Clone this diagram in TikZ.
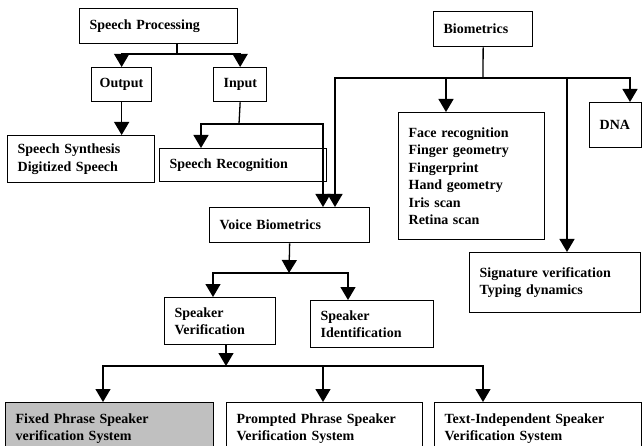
\documentclass[tikz,border=0pt]{standalone}
\usepackage{fontspec}
\setmainfont{Liberation Serif}
\usetikzlibrary{arrows.meta}

\tikzset{
  box/.style={draw, line width=1.3pt, rectangle, anchor=north west, align=left,
    inner xsep=10pt, inner ysep=2pt, font=\bfseries\fontsize{14}{17.5}\selectfont},
  arr/.style={-{Triangle[length=13pt,width=15pt]}, line width=1.3pt},
  link/.style={line width=1.3pt}
}

\begin{document}
\begin{tikzpicture}[x=1pt,y=-1pt]
    \clip (0,0) rectangle (642,446);

    % Speech processing side
    \node[box, text width=138pt, minimum height=35pt] (sp) at (79,8) {Speech Processing};
    \node[box, inner xsep=8pt, text width=44pt, minimum height=34pt] (out) at (91,67) {Output};
    \node[box, text width=33pt, minimum height=34pt] (inp) at (213,67) {Input};
    \node[box, text width=127pt, minimum height=47pt] (syn) at (7,135) {Speech Synthesis\\Digitized Speech};
    \node[box, text width=147pt, minimum height=33pt] (rec) at (159,148) {Speech Recognition};
    \node[box, text width=140pt, minimum height=35pt] (vb) at (209,207) {Voice Biometrics};

    % Biometrics side
    \node[box, text width=79pt, minimum height=35pt] (bio) at (433,11) {Biometrics};
    \node[box, text width=126pt, minimum height=127pt] (face) at (398,112)
        {Face recognition\\Finger geometry\\Fingerprint\\Hand geometry\\Iris scan\\Retina scan};
    \node[box, text width=32pt, minimum height=45pt] (dna) at (589,102) {DNA};
    \node[box, text width=151pt, minimum height=60pt] (sig) at (469,252) {Signature verification\\Typing dynamics};

    % Speaker recognition
    \node[box, text width=91pt, minimum height=47pt] (sv) at (164,297) {Speaker\\Verification};
    \node[box, text width=103pt, minimum height=47pt] (si) at (310,300) {Speaker\\Identification};
    \node[box, fill={rgb,255:red,192;green,192;blue,192}, text width=188pt, minimum height=52pt] (fix) at (5,402)
        {Fixed Phrase Speaker\\verification System};
    \node[box, text width=176pt, minimum height=52pt] (pro) at (226,402) {Prompted Phrase Speaker\\Verification System};
    \node[box, text width=187pt, minimum height=52pt] (ti) at (434,402) {Text-Independent Speaker\\Verification System};

    % Branch points
    \coordinate (j1) at (177,54);
    \coordinate (j2) at (239,124);
    \coordinate (j3) at (483,78);
    \coordinate (j4) at (289,273);
    \coordinate (j5) at (226,366);

    % Connectors
    \draw[link] (sp.south -| j1) -- (j1);
    \draw[arr] (j1) -| (out.north);
    \draw[arr] (j1) -| (inp.north);
    \draw[arr] (out.south) -- (out.south |- syn.north);
    \draw[link] (inp.south) -- (j2);
    \draw[arr] (j2) -| ([xshift=42pt]rec.north west);
    \draw[arr] (j2) -| ([xshift=114pt]vb.north west);

    \draw[link] (bio.south) -- (j3);
    \draw[arr] (j3) -| ([xshift=126pt]vb.north west);
    \draw[arr] (j3) -| ([xshift=48pt]face.north west);
    \draw[arr] (j3) -| ([xshift=98pt]sig.north west);
    \draw[arr] (j3) -| ([xshift=41pt]dna.north west);

    \draw[arr] (vb.south) -- (j4);
    \draw[arr] (j4) -| ([xshift=49pt]sv.north west);
    \draw[arr] (j4) -| ([xshift=38pt]si.north west);

    \draw[arr] (sv.south -| j5) -- (j5);
    \draw[arr] (j5) -| ([xshift=98pt]fix.north west);
    \draw[arr] (j5) -| ([xshift=97pt]pro.north west);
    \draw[arr] (j5) -| ([xshift=49pt]ti.north west);
\end{tikzpicture}
\end{document}
